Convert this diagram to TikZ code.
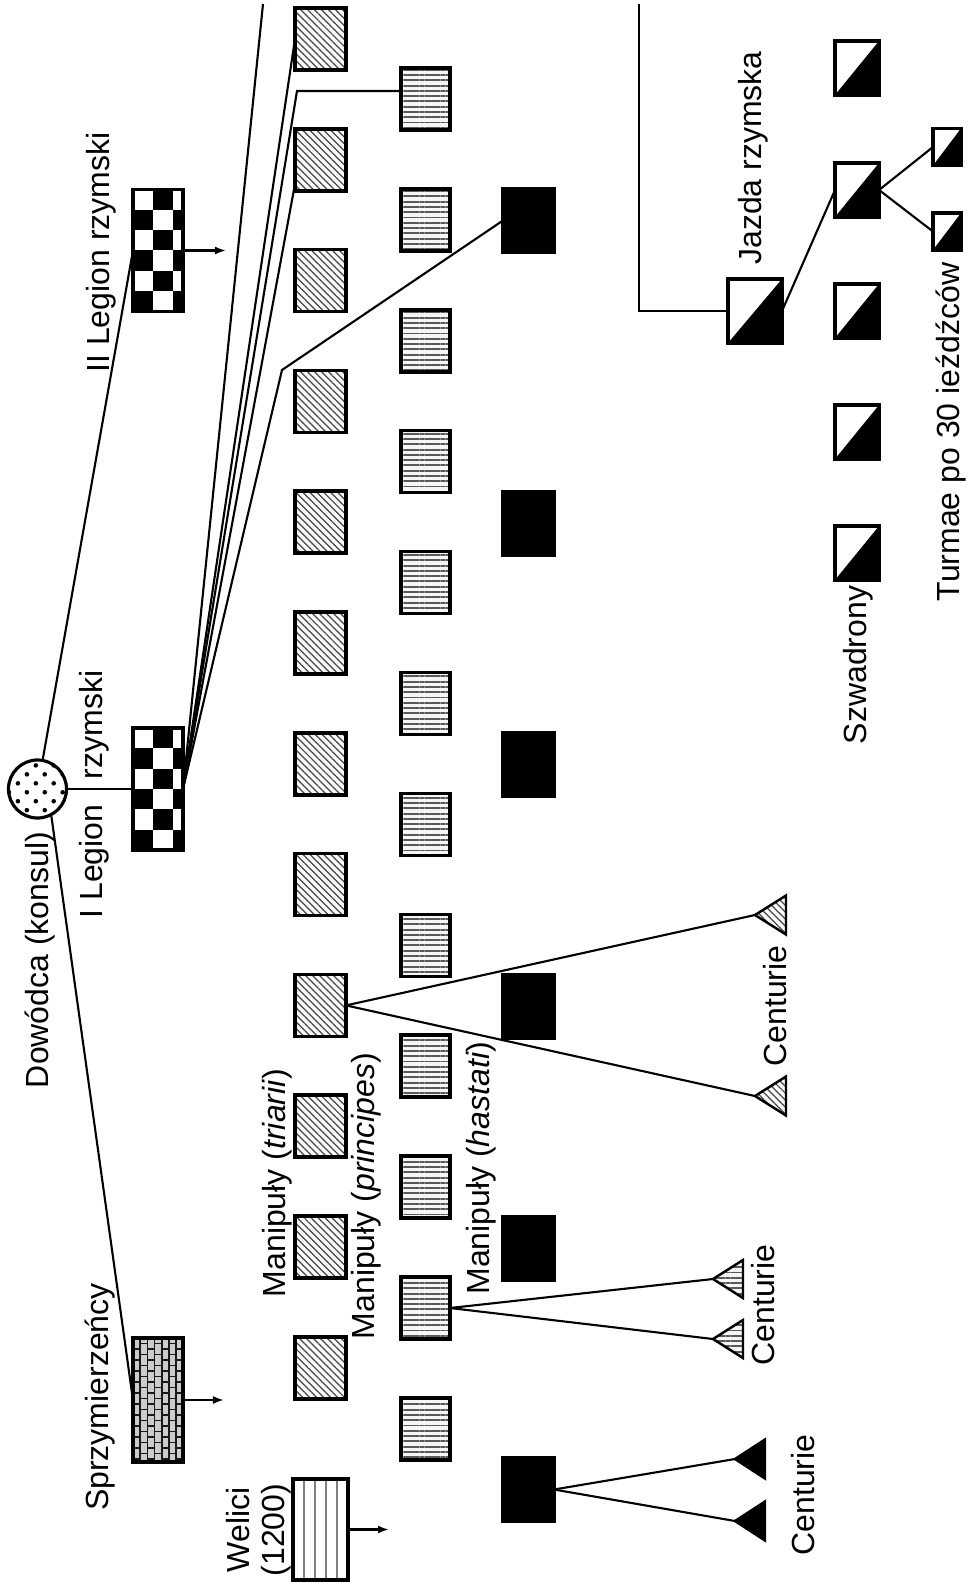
\documentclass[tikz,border=0pt]{standalone}
\usepackage{fontspec}
\setmainfont{Liberation Sans}
\usetikzlibrary{patterns.meta,arrows.meta}
\begin{document}
\begin{tikzpicture}[x=0.01cm,y=-0.01cm,
  font=\fontsize{9.1pt}{10pt}\selectfont,
  line/.style={line width=0.6pt},
  arrowline/.style={line width=0.6pt,-{Latex[length=1.1mm,width=0.8mm]}},
  box/.style={draw, line width=1pt, inner sep=0pt, outer sep=0pt, rectangle},
  triarius/.style={box, minimum width=0.51cm, minimum height=0.62cm, preaction={fill=gray!5},
     pattern={Lines[angle=-45,distance=1.4pt,line width=0.35pt]}, pattern color=gray!55!black},
  princeps/.style={box, minimum width=0.49cm, minimum height=0.62cm, preaction={fill=gray!8},
     pattern={Lines[angle=0,distance=1.5pt,line width=0.55pt]}, pattern color=gray!70!black},
  hastatus/.style={box, minimum width=0.51cm, minimum height=0.63cm, fill=black},
  legion/.style={box, minimum width=0.50cm, minimum height=1.22cm, fill=white,
     path picture={\foreach \i/\j in {0/1,1/0,1/2,2/1,3/0,3/2,4/1,5/0,5/2}
        \fill[black] ([shift={(\j*20,\i*20.33)}]path picture bounding box.north west) rectangle ++(20,20.33);}},
  allies/.style={box, minimum width=0.50cm, minimum height=1.24cm, fill=gray!40,
     path picture={\foreach \c in {0,...,6} {
        \pgfmathsetmacro\off{mod(\c,2)*5.5}
        \draw[gray!20!black, line width=0.45pt] ([shift={(\c*7.2,0)}]path picture bounding box.north west) -- ++(0,130);
        \foreach \r in {0,...,11}
          \draw[gray!20!black, line width=0.45pt] ([shift={(\c*7.2,\r*11+\off)}]path picture bounding box.north west) -- ++(7.2,0);
     }}},
  welici/.style={box, minimum width=0.55cm, minimum height=1.01cm, fill=white,
     path picture={\foreach \k in {1,...,4}
        \draw[gray, line width=0.5pt] ([shift={(\k*11,0)}]path picture bounding box.north west) -- ++(0,110);}},
  dowc/.style={draw, circle, line width=0.9pt, minimum size=0.58cm, inner sep=0pt, preaction={fill=white},
     pattern={Dots[radius=0.65pt,distance=3.6pt,angle=45]}, pattern color=black},
  cav/.style={box, fill=white,
     path picture={\fill[black] (path picture bounding box.south west) -- (path picture bounding box.north east)
        -- (path picture bounding box.south east) -- cycle;}},
  szw/.style={cav, minimum width=0.44cm, minimum height=0.54cm},
  turma/.style={cav, minimum width=0.28cm, minimum height=0.37cm},
  centtri/.style={draw, line width=0.7pt},
  tricent/.style={centtri, preaction={fill=gray!5}, pattern={Lines[angle=-45,distance=1.4pt,line width=0.35pt]}, pattern color=gray!55!black},
  pricent/.style={centtri, preaction={fill=gray!8}, pattern={Lines[angle=0,distance=1.5pt,line width=0.55pt]}, pattern color=gray!70!black},
  hascent/.style={centtri, fill=black},
  txt/.style={rotate=90, inner sep=0pt}
]
\useasboundingbox (0,0) rectangle (969,1589);

% main nodes
\node[dowc] (dow) at (37.5,789) {};
\node[legion] (leg1) at (158,789) {};
\node[legion] (leg2) at (158,250.5) {};
\node[allies] (spr) at (158,1400) {};
\node[welici] (wel) at (320.5,1529.5) {};

\foreach \k in {1,...,12}
  \node[triarius] (tri\k) at (320.5,{39+120.8*(\k-1)}) {};
\foreach \k in {1,...,12}
  \node[princeps] (pri\k) at (425.5,{99+120.9*(\k-1)}) {};
\foreach \k/\y in {1/220.5,2/523.5,3/764.5,4/1006.5,5/1248.5,6/1489.5}
  \node[hastatus] (has\k) at (528.5,\y) {};

\node[cav, minimum width=0.54cm, minimum height=0.64cm] (jazda) at (755,311) {};
\foreach \k/\y in {1/68,2/190,3/311,4/432,5/553}
  \node[szw] (szw\k) at (857,\y) {};
\node[turma] (tur1) at (947,147) {};
\node[turma] (tur2) at (947,231.5) {};

% free ends
\coordinate (top1) at (263,4);
\coordinate (bend2) at (297,91);
\coordinate (end3) at (295,184);
\coordinate (bend4) at (282,370);
\coordinate (top2) at (639,4);
\coordinate (a1) at (226,250.5);
\coordinate (a2) at (224,1400);
\coordinate (a3) at (389,1529.5);
\coordinate (ct1) at (755,915);
\coordinate (ct2) at (755,1096);
\coordinate (cp1) at (713,1279);
\coordinate (cp2) at (713,1339);
\coordinate (ch1) at (735,1459);
\coordinate (ch2) at (735,1521);

% connectors
\draw[line] (dow) -- (leg1);
\draw[line] (dow) -- (leg2.west);
\draw[line] (dow.-63) -- (spr.west);
\draw[arrowline] (leg2.east) -- (a1);
\draw[arrowline] (spr.east) -- (a2);
\draw[arrowline] (wel.east) -- (a3);
\draw[line] (leg1.east) -- (top1);
\draw[line] (leg1.east) -- (tri1.west);
\draw[line] (leg1.east) -- (bend2) -- (bend2 -| pri1.west);
\draw[line] (leg1.east) -- (end3);
\draw[line] (leg1.east) -- (bend4) -- (has1.west);
\draw[line] (tri9.east) -- (ct1);
\draw[line] (tri9.east) -- (ct2);
\draw[line] (pri11.east) -- (cp1);
\draw[line] (pri11.east) -- (cp2);
\draw[line] (has6.east) -- (ch1);
\draw[line] (has6.east) -- (ch2);
\draw[line] (top2) |- (jazda.west);
\draw[line] (jazda.east) -- (szw2.west);
\draw[line] (szw2.east) -- (tur1.west);
\draw[line] (szw2.east) -- (tur2.west);

% centuries (triangles)
\draw[tricent] (ct1) -- ++(31,-19.5) -- ++(0,39) -- cycle;
\draw[tricent] (ct2) -- ++(31,-19.5) -- ++(0,39) -- cycle;
\draw[pricent] (cp1) -- ++(30,-19) -- ++(0,38) -- cycle;
\draw[pricent] (cp2) -- ++(30,-19) -- ++(0,38) -- cycle;
\draw[hascent] (ch1) -- ++(30,-19.5) -- ++(0,39) -- cycle;
\draw[hascent] (ch2) -- ++(30,-19.5) -- ++(0,39) -- cycle;

% labels
\node[txt] (tDow) at (40.5,960) {Dowódca (konsul)};
\node[txt] (tLeg1a) at (94.5,861.5) {I Legion};
\node[txt] (tLeg1b) at (94.5,725) {rzymski};
\node[txt] (tLeg2) at (101,252.5) {II Legion rzymski};
\node[txt] (tSpr) at (100,1397) {Sprzymierzeńcy};
\node[txt, align=center] (tWel) at (258.5,1530) {Welici\\(1200)};
\node[txt] (tTri) at (277,1183) {Manipuły (\textit{triarii})};
\node[txt] (tPri) at (366,1196) {Manipuły (\textit{principes})};
\node[txt] (tHas) at (481,1168) {Manipuły (\textit{hastati})};
\node[txt] (tC1) at (775,1006) {Centurie};
\node[txt] (tC2) at (763,1305) {Centurie};
\node[txt] (tC3) at (803,1495) {Centurie};
\node[txt] (tJaz) at (753,158) {Jazda rzymska};
\node[txt] (tSzw) at (858,665) {Szwadrony};
\node[txt] (tTur) at (951,432) {Turmae po 30 ieźdźców};
\end{tikzpicture}
\end{document}
